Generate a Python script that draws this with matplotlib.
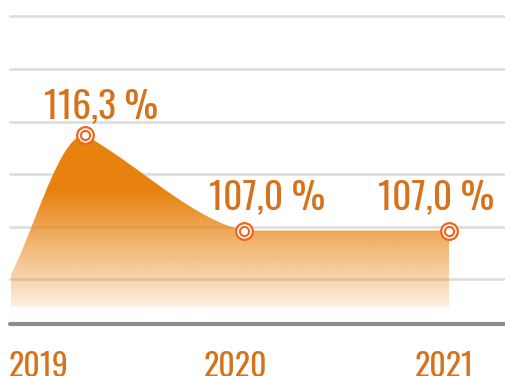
import numpy as np
import matplotlib
matplotlib.use('Agg')
import matplotlib.pyplot as plt
from matplotlib import font_manager
from matplotlib.patches import Polygon

##      data      ##
years = ['2019', '2020', '2021']
values = [116.3, 107.0, 107.0]
labels = ['116,3 %', '107,0 %', '107,0 %']
pt_x = [0.223, 1.0, 2.0]          # where the points sit on the x axis
lead_in = (-0.137, 102.67)         # where the curve enters on the left

##      styles      ##
ORANGE = '#e8820f'
RING = '#f0641e'
TXT = '#d6721b'
lbl_off = [(16, 17), (23, 21), (-13, 21)]   # value label offsets in px (dx, up)
year_dx = [0, -8, -5]                        # year label shift in px

avail = set(f.name for f in font_manager.fontManager.ttflist)
fam = next((f for f in ['Oswald', 'Roboto Condensed', 'Liberation Sans Narrow', 'DejaVu Sans'] if f in avail), 'DejaVu Sans')


def hermite(x0, y0, m0, x1, y1, m1, n=80):
    t = np.linspace(0, 1, n)
    h = x1 - x0
    y = ((2 * t**3 - 3 * t**2 + 1) * y0 + (t**3 - 2 * t**2 + t) * h * m0
         + (-2 * t**3 + 3 * t**2) * y1 + (t**3 - t**2) * h * m1)
    return x0 + t * h, y


fig = plt.figure(figsize=(5.05, 3.76), dpi=100)
ax = fig.add_axes([0, 0, 1, 1])
ax.set_xlim(-0.190, 2.273)
ax.set_ylim(92.833, 129.445)
ax.axis('off')

# grid lines + thick base line
for g in [127.84, 122.73, 117.61, 112.50, 107.39, 102.28]:
    ax.plot([-0.142, 2.4], [g, g], color='#dddddd', lw=1.9, solid_capstyle='round', zorder=1)
ax.plot([-0.142, 2.4], [97.9, 97.9], color='#8c8c8c', lw=3.0, solid_capstyle='round', zorder=1)

# smoothed outline through the points
bottom = 99.6
xa, ya = hermite(lead_in[0], lead_in[1], 40.0, pt_x[0], values[0], 0.0)
xb, yb = hermite(pt_x[0], values[0], -11.0, pt_x[1], values[1], -4.5)
xc, yc = hermite(pt_x[1], values[1], 0.0, pt_x[2], values[2], 0.0)
cx = np.concatenate([xa, xb[1:], xc[1:]])
cy = np.concatenate([ya, yb[1:], yc[1:]])
verts = np.column_stack([np.r_[cx[0], cx, cx[-1]], np.r_[bottom, cy, bottom]])
poly = Polygon(verts, closed=True, facecolor='none', edgecolor='none')
ax.add_patch(poly)

# vertical fade: solid orange at the top, almost clear at the bottom
yy = np.linspace(bottom, max(values) + 1, 300)
py = 135 + (116.3 - yy) * 10.27
alpha = np.clip(1 - (py - 190) * 0.0075, 0.12, 1)
rgba = np.zeros((len(yy), 1, 4))
rgba[:, 0, :3] = matplotlib.colors.to_rgb(ORANGE)
rgba[:, 0, 3] = alpha
im = ax.imshow(rgba, extent=(cx[0], cx[-1], bottom, yy[-1]), origin='lower',
               aspect='auto', interpolation='bilinear', zorder=2)
im.set_clip_path(poly)

# ring markers
ax.plot(pt_x, values, 'o', ms=12.0, mfc='white', mec=RING, mew=1.6, zorder=4)
ax.plot(pt_x, values, 'o', ms=6.6, mfc='white', mec=RING, mew=1.5, zorder=5)

for x, v, s, (dx, up) in zip(pt_x, values, labels, lbl_off):
    ax.annotate(s, (x, v), xytext=(dx * 0.72, up * 0.72), textcoords='offset points',
                ha='center', va='baseline', fontsize=27, color=TXT, family=fam, zorder=6)

for i, (y, dx) in enumerate(zip(years, year_dx)):
    ax.annotate(y, (i, 92.74), xytext=(dx * 0.72, 0), textcoords='offset points',
                ha='center', va='baseline', fontsize=23, color=TXT, family=fam,
                annotation_clip=False)

fig.savefig('out.png', dpi=100)
